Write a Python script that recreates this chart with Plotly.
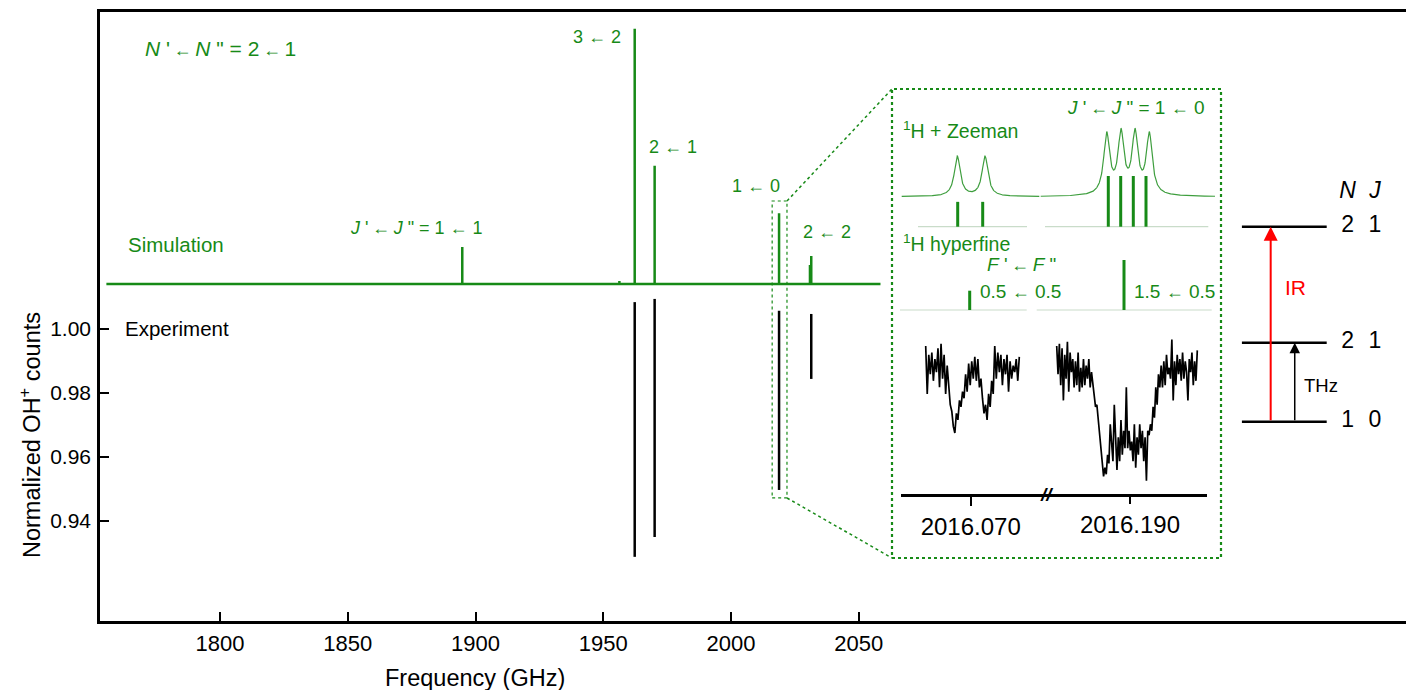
import numpy as np
import plotly.graph_objects as go

W, H = 1406, 690
GREEN = "#178a17"
LIGHT_GREEN = "#3e9e3e"
PALE = "#c9dcc9"
FONT = "Arial, Liberation Sans, Helvetica, sans-serif"

# ---------------- main panel data ----------------
x_ticks = [1800, 1850, 1900, 1950, 2000, 2050]
x_tick_labels = ["1800", "1850", "1900", "1950", "2000", "2050"]
y_ticks = [0.94, 0.96, 0.98, 1.00]
y_tick_labels = ["0.94", "0.96", "0.98", "1.00"]

sim_baseline = 1.0141
sim_freq = [1894.8, 1956.3, 1962.3, 1970.1, 2018.8, 2030.9, 2031.4]
sim_peak = [1.0256, 1.0150, 1.0938, 1.0510, 1.0362, 1.0200, 1.0228]
sim_span = [1755.5, 2058.5]

exp_freq = [1962.3, 1970.1, 2018.8, 2031.4]
exp_top = [1.0084, 1.0094, 1.0057, 1.0047]
exp_bottom = [0.9288, 0.9350, 0.9497, 0.9844]

ARR = ' <span style="font-size:18px">←</span> '
ARR_T = '<span style="font-size:18px">\u2009←\u2009</span>'
peak_labels = ["<i>J</i> '" + ARR_T + "<i>J</i> \" = 1" + ARR + "1",
               "3" + ARR + "2", "2" + ARR + "1", "1" + ARR + "0", "2" + ARR + "2"]

# ---------------- inset data ----------------
inset_tick_vals = [2016.070, 2016.190]
inset_tick_labels = ["2016.070", "2016.190"]

zee_left_freq = [2016.0687, 2016.0712]
zee_left_int = [0.49, 0.49]
zee_right_freq = [2016.18783, 2016.18907, 2016.19033, 2016.19160]
zee_right_int = [1.0, 1.0, 1.0, 1.0]
prof_left_center = [2016.06866, 2016.07143]
prof_left_amp = [0.585, 0.585]
prof_right_center = [2016.18767, 2016.18910, 2016.19050, 2016.19193]
prof_right_amp = [0.88, 0.88, 0.88, 0.88]
prof_hwhm = 0.00036
prof_left_span = [2016.0631, 2016.07686]
prof_right_span = [2016.18107, 2016.1985]
stick_left_span = [2016.06473, 2016.07563]
stick_right_span = [2016.1815, 2016.19783]

hf_left_freq = [2016.0699]
hf_left_int = [0.386]
hf_right_freq = [2016.1894]
hf_right_int = [1.0]
hf_left_span = [2016.06293, 2016.0756]
hf_right_span = [2016.18067, 2016.19817]

exp_left_span = [2016.0655, 2016.07486]
exp_left_counts = [1.011, 0.989, 1.007, 0.998, 1.008, 0.995, 1.005, 0.999, 1.010, 0.992,
                   1.012, 0.996, 1.007, 0.989, 1.002, 0.992, 0.984, 0.981, 0.974, 0.971,
                   0.980, 0.977, 0.986, 0.983, 0.990, 0.987, 0.998, 0.990, 1.003, 0.993,
                   1.004, 0.996, 1.006, 0.995, 1.005, 0.992, 0.996, 0.987, 0.980, 0.984,
                   0.977, 0.989, 0.983, 0.995, 0.989, 1.011, 0.996, 1.008, 0.999, 1.007,
                   0.993, 1.005, 0.998, 1.007, 0.990, 1.004, 0.996, 1.002, 0.999, 1.005,
                   0.995, 1.006]
exp_right_span = [2016.18267, 2016.19673]
exp_right_counts = [1.011, 0.998, 1.012, 0.993, 1.010, 0.986, 1.007, 0.996, 1.013, 0.990,
                    1.008, 0.999, 1.005, 0.992, 1.004, 0.993, 1.008, 0.990, 1.001, 0.992,
                    1.005, 0.993, 1.002, 0.996, 1.005, 0.992, 0.999, 0.993, 0.987, 0.983,
                    0.984, 0.978, 0.972, 0.964, 0.958, 0.951, 0.955, 0.952, 0.961, 0.957,
                    0.975, 0.967, 0.958, 0.984, 0.964, 0.954, 0.969, 0.958, 0.977, 0.961,
                    0.972, 0.964, 0.992, 0.964, 0.972, 0.963, 0.967, 0.958, 0.975, 0.955,
                    0.969, 0.961, 0.975, 0.964, 0.972, 0.958, 0.969, 0.949, 0.972, 0.970,
                    0.975, 0.972, 0.983, 0.978, 0.992, 0.984, 0.998, 0.992, 1.002, 0.992,
                    1.004, 0.993, 1.007, 0.998, 1.001, 0.996, 1.014, 0.986, 1.004, 0.993,
                    1.007, 0.998, 1.005, 0.995, 1.008, 0.996, 1.004, 0.999, 0.986, 1.005,
                    0.999, 1.008, 0.993, 1.004, 0.995, 1.009]

# ---------------- energy level data ----------------
level_energy = [0.0, 1.0, 2.468]
level_N = ["1", "2", "2"]
level_J = ["0", "1", "1"]


def P(x, y):
    return x / W, 1 - y / H


def dom_x(a, b):
    return [a / W, b / W]


def dom_y(top, bottom):
    return [1 - bottom / H, 1 - top / H]


def sticks(freqs, ints, base=0.0):
    xs, ys = [], []
    for f, v in zip(freqs, ints):
        xs += [f, f, None]
        ys += [base, v, None]
    return xs, ys


def profile(span, centers, amps, hwhm):
    f = np.linspace(span[0], span[1], 600)
    s = np.zeros_like(f)
    for c, a in zip(centers, amps):
        s += a * hwhm ** 2 / ((f - c) ** 2 + hwhm ** 2)
    return f, s


fig = go.Figure()

# main simulation trace
order = np.argsort(sim_freq)
sx, sy = [sim_span[0]], [sim_baseline]
for i in order:
    sx += [sim_freq[i], sim_freq[i], sim_freq[i]]
    sy += [sim_baseline, sim_peak[i], sim_baseline]
sx.append(sim_span[1]); sy.append(sim_baseline)
fig.add_trace(go.Scatter(x=sx, y=sy, mode="lines", line=dict(color=GREEN, width=2.5),
                         xaxis="x", yaxis="y", hoverinfo="skip"))

# main experiment traces
ex, ey = [], []
for f, t, b in zip(exp_freq, exp_top, exp_bottom):
    ex += [f, f, None]
    ey += [t, b, None]
fig.add_trace(go.Scatter(x=ex, y=ey, mode="lines", line=dict(color="black", width=2.5),
                         xaxis="x", yaxis="y", hoverinfo="skip"))

# inset experiment
fig.add_trace(go.Scatter(x=np.linspace(exp_left_span[0], exp_left_span[1], len(exp_left_counts)),
                         y=exp_left_counts, mode="lines", line=dict(color="black", width=1.7),
                         xaxis="x2", yaxis="y2"))
fig.add_trace(go.Scatter(x=np.linspace(exp_right_span[0], exp_right_span[1], len(exp_right_counts)),
                         y=exp_right_counts, mode="lines", line=dict(color="black", width=1.7),
                         xaxis="x3", yaxis="y2"))

# inset Lorentzian profiles (sum of Lorentzians at the component positions)
fx, fy = profile(prof_left_span, prof_left_center, prof_left_amp, prof_hwhm)
fig.add_trace(go.Scatter(x=fx, y=fy, mode="lines", line=dict(color=LIGHT_GREEN, width=1.2),
                         xaxis="x4", yaxis="y3"))
fx, fy = profile(prof_right_span, prof_right_center, prof_right_amp, prof_hwhm)
fig.add_trace(go.Scatter(x=fx, y=fy, mode="lines", line=dict(color=LIGHT_GREEN, width=1.2),
                         xaxis="x5", yaxis="y3"))

# Zeeman sticks
fig.add_trace(go.Scatter(x=stick_left_span, y=[0, 0], mode="lines", line=dict(color=PALE, width=1.2),
                         xaxis="x4", yaxis="y4"))
fig.add_trace(go.Scatter(x=stick_right_span, y=[0, 0], mode="lines", line=dict(color=PALE, width=1.2),
                         xaxis="x5", yaxis="y4"))
zx, zy = sticks(zee_left_freq, zee_left_int)
fig.add_trace(go.Scatter(x=zx, y=zy, mode="lines", line=dict(color=GREEN, width=3),
                         xaxis="x4", yaxis="y4"))
zx, zy = sticks(zee_right_freq, zee_right_int)
fig.add_trace(go.Scatter(x=zx, y=zy, mode="lines", line=dict(color=GREEN, width=3),
                         xaxis="x5", yaxis="y4"))

# hyperfine sticks
fig.add_trace(go.Scatter(x=hf_left_span, y=[0, 0], mode="lines", line=dict(color=PALE, width=1.2),
                         xaxis="x4", yaxis="y5"))
fig.add_trace(go.Scatter(x=hf_right_span, y=[0, 0], mode="lines", line=dict(color=PALE, width=1.2),
                         xaxis="x5", yaxis="y5"))
hx, hy = sticks(hf_left_freq, hf_left_int)
fig.add_trace(go.Scatter(x=hx, y=hy, mode="lines", line=dict(color=GREEN, width=3),
                         xaxis="x4", yaxis="y5"))
hx, hy = sticks(hf_right_freq, hf_right_int)
fig.add_trace(go.Scatter(x=hx, y=hy, mode="lines", line=dict(color=GREEN, width=3),
                         xaxis="x5", yaxis="y5"))

# energy levels
lx, ly = [], []
for e in level_energy:
    lx += [0, 1, None]
    ly += [e, e, None]
fig.add_trace(go.Scatter(x=lx, y=ly, mode="lines", line=dict(color="black", width=2.5),
                         xaxis="x6", yaxis="y6"))
fig.add_trace(go.Scatter(x=[1.247] * 3 + [1.568] * 3, y=level_energy * 2,
                         text=level_N + level_J, mode="text",
                         textfont=dict(size=23, color="black", family=FONT),
                         xaxis="x6", yaxis="y6"))
fig.add_trace(go.Scatter(x=[1.247, 1.568], y=[2.90, 2.90], text=["<i>N</i>", "<i>J</i>"],
                         mode="text", textfont=dict(size=23, color="black", family=FONT),
                         xaxis="x6", yaxis="y6"))

annotations = []


def txt(x, y, s, size, color="black", **kw):
    px, py = P(x, y)
    annotations.append(dict(x=px, y=py, xref="paper", yref="paper", text=s, showarrow=False,
                            font=dict(size=size, color=color, family=FONT),
                            xanchor="center", yanchor="middle", **kw))


txt(220, 48, "<i>N</i> '" + ARR_T + "<i>N</i> \" = 2" + ARR_T + "1", 21, GREEN)
txt(175.5, 244, "Simulation", 20.5, GREEN)
txt(177, 328, "Experiment", 20.5, "black")
label_pos = [(416, 228), (597, 37), (672.5, 147), (756, 186), (827, 232)]
for (x, y), s in zip(label_pos, peak_labels):
    txt(x, y, s, 18, GREEN)

txt(1136, 108, "<i>J</i> '" + ARR_T + "<i>J</i> \" = 1" + ARR + "0", 19, GREEN)
txt(960.5, 130, "<sup>1</sup>H + Zeeman", 19.5, GREEN)
txt(956.5, 243, "<sup>1</sup>H hyperfine", 19.5, GREEN)
txt(1021.5, 265, "<i>F</i> '" + ARR_T + "<i>F</i> \"", 19, GREEN)
txt(1020, 292, "0.5" + ARR + "0.5", 19, GREEN)
txt(1174, 292, "1.5" + ARR + "0.5", 19, GREEN)
txt(1046.7, 494, "<b><i>//</i></b>", 19, "black")

txt(474.5, 678, "Frequency (GHz)", 23.5, "black")
txt(30, 435, "Normalized OH<sup>+</sup> counts", 23.5, "black", textangle=-90)

txt(1295, 287, "IR", 21, "red")
txt(1321, 385, "THz", 18.5, "black")

# energy arrows
annotations.append(dict(x=0.341, y=level_energy[2], ax=0.341, ay=level_energy[0],
                        xref="x6", yref="y6", axref="x6", ayref="y6", showarrow=True,
                        arrowhead=2, arrowsize=1.4, arrowwidth=2, arrowcolor="red", text=""))
annotations.append(dict(x=0.624, y=level_energy[1], ax=0.624, ay=level_energy[0],
                        xref="x6", yref="y6", axref="x6", ayref="y6", showarrow=True,
                        arrowhead=2, arrowsize=1.4, arrowwidth=1.5, arrowcolor="black", text=""))

shapes = []
# inset box
x0, y1 = P(892, 89)
x1, y0 = P(1221, 558)
shapes.append(dict(type="rect", xref="paper", yref="paper", x0=x0, x1=x1, y0=y0, y1=y1,
                   line=dict(color=GREEN, width=2.2, dash="dot")))
# zoom region in data coords
shapes.append(dict(type="rect", xref="x", yref="y", x0=2016.1, x1=2021.9, y0=0.9472, y1=1.0400,
                   line=dict(color=GREEN, width=1.2, dash="dot")))
for (a, b), (c, d) in [((787, 201), (892, 89)), ((787, 498), (892, 558))]:
    ax_, ay_ = P(a, b)
    cx_, cy_ = P(c, d)
    shapes.append(dict(type="line", xref="paper", yref="paper", x0=ax_, y0=ay_, x1=cx_, y1=cy_,
                       line=dict(color=GREEN, width=1.5, dash="dot")))

hidden = dict(visible=False, showgrid=False, zeroline=False, fixedrange=True)

fig.update_layout(
    width=W, height=H, autosize=False,
    margin=dict(l=0, r=0, t=0, b=0),
    paper_bgcolor="white", plot_bgcolor="rgba(0,0,0,0)",
    showlegend=False,
    font=dict(family=FONT, color="black"),
    annotations=annotations, shapes=shapes,
    xaxis=dict(domain=dom_x(100, W), range=[1753.0, 2264.2], anchor="y",
               showline=True, linecolor="black", linewidth=2.5, mirror=True,
               ticks="inside", ticklen=9, tickwidth=2, tickcolor="black",
               tickvals=x_ticks, ticktext=x_tick_labels, tickfont=dict(size=22),
               ticklabelstandoff=1, showgrid=False, zeroline=False),
    yaxis=dict(domain=dom_y(12, 621), range=[0.90875, 1.09906], anchor="x",
               showline=True, linecolor="black", linewidth=2.5,
               ticks="inside", ticklen=9, tickwidth=2, tickcolor="black",
               tickvals=y_ticks, ticktext=y_tick_labels, tickfont=dict(size=21),
               ticklabelstandoff=2, showgrid=False, zeroline=False),
    xaxis2=dict(domain=dom_x(900.7, 1206.7), range=[2016.0630, 2016.0936], anchor="y2",
                showline=True, linecolor="black", linewidth=2.5,
                ticks="outside", ticklen=9, tickwidth=2, tickcolor="black",
                tickvals=[inset_tick_vals[0]], ticktext=[inset_tick_labels[0]],
                tickfont=dict(size=24), showgrid=False, zeroline=False),
    xaxis3=dict(domain=dom_x(900.7, 1206.7), range=[2016.16707, 2016.19767], anchor="y2",
                overlaying="x2", showline=False,
                ticks="outside", ticklen=9, tickwidth=2, tickcolor="black",
                tickvals=[inset_tick_vals[1]], ticktext=[inset_tick_labels[1]],
                tickfont=dict(size=24), showgrid=False, zeroline=False),
    yaxis2=dict(domain=dom_y(334, 494.3), range=[0.94277, 1.01655], anchor="x2", **hidden),
    xaxis4=dict(domain=dom_x(892, 1221), range=[2016.06213, 2016.09503], anchor="y3", **hidden),
    xaxis5=dict(domain=dom_x(892, 1221), range=[2016.1662, 2016.1991], anchor="y3",
                overlaying="x4", **hidden),
    yaxis3=dict(domain=dom_y(118, 200), range=[-0.048, 1.1506], anchor="x4", **hidden),
    yaxis4=dict(domain=dom_y(170, 230), range=[-0.065, 1.118], anchor="x4", **hidden),
    yaxis5=dict(domain=dom_y(255, 313), range=[-0.06, 1.1], anchor="x4", **hidden),
    xaxis6=dict(domain=dom_x(1241.7, W), range=[0, 1.933], anchor="y6", **hidden),
    yaxis6=dict(domain=dom_y(150, 440), range=[-0.2316, 3.4392], anchor="x6", **hidden),
)

fig.write_html("out.html", config={"displayModeBar": False},
               post_script="document.body.style.margin='0';document.body.style.overflow='hidden';")
